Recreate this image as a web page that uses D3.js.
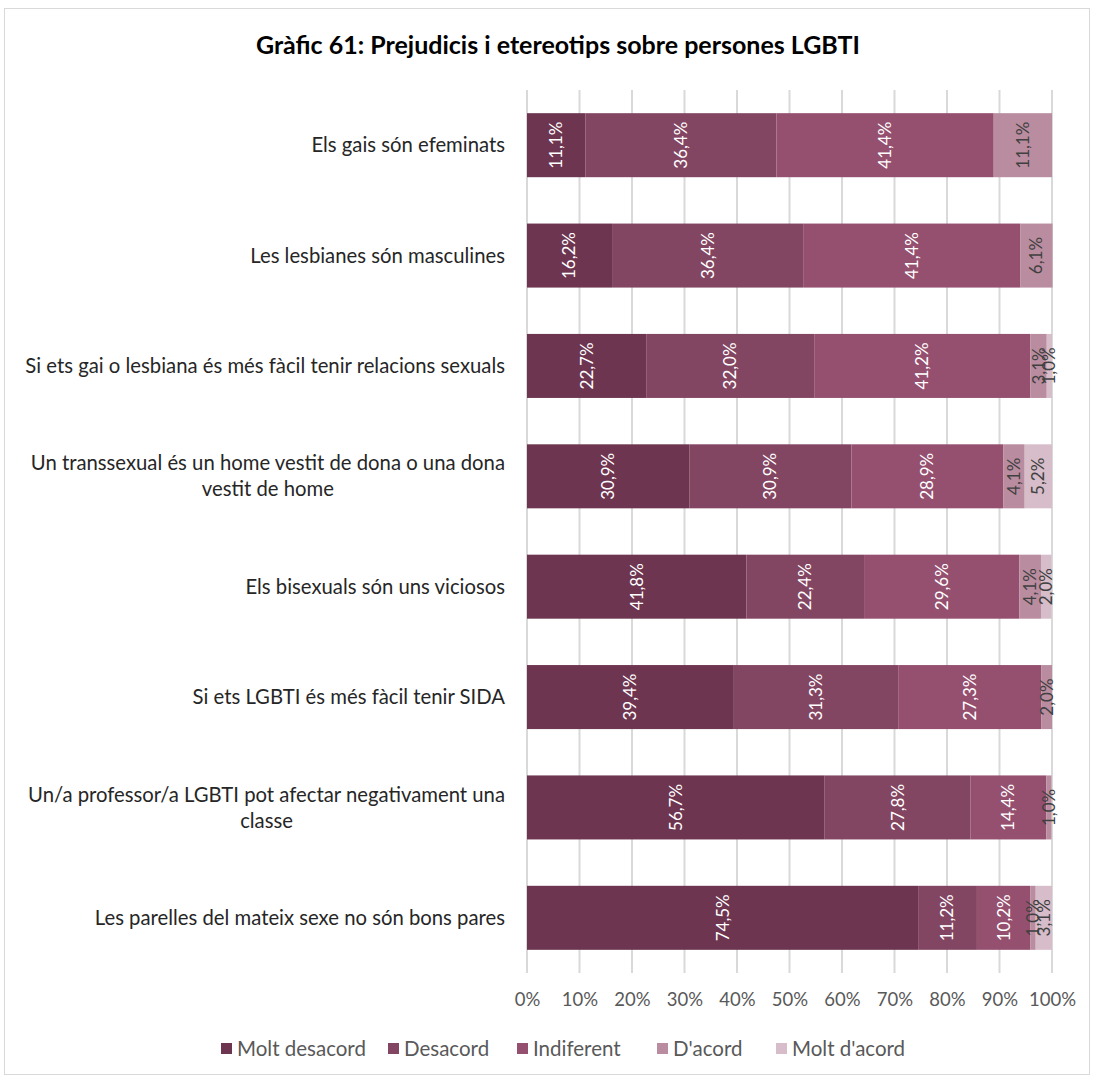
<!DOCTYPE html>
<html>
<head>
<meta charset="utf-8">
<script src="https://cdn.jsdelivr.net/npm/d3@7"></script>
<style>
  body { margin: 0; background: #fff; }
  svg text { font-family: Lato, "Open Sans", sans-serif; }
</style>
</head>
<body>
<div id="chart"></div>
<script>
const categories = [
    ["Els gais són efeminats"],
    ["Les lesbianes són masculines"],
    ["Si ets gai o lesbiana és més fàcil tenir relacions sexuals"],
    ["Un transsexual és un home vestit de dona o una dona", "vestit de home"],
    ["Els bisexuals són uns viciosos"],
    ["Si ets LGBTI és més fàcil tenir SIDA"],
    ["Un/a professor/a LGBTI pot afectar negativament una", "classe"],
    ["Les parelles del mateix sexe no són bons pares"]
]
const seriesNames = ["Molt desacord", "Desacord", "Indiferent", "D'acord", "Molt d'acord"]
const moltDesacord = [11.1, 16.2, 22.7, 30.9, 41.8, 39.4, 56.7, 74.5]
const desacord     = [36.4, 36.4, 32.0, 30.9, 22.4, 31.3, 27.8, 11.2]
const indiferent   = [41.4, 41.4, 41.2, 28.9, 29.6, 27.3, 14.4, 10.2]
const dAcord       = [11.1, 6.1, 3.1, 4.1, 4.1, 2.0, 1.0, 1.0]
const moltDAcord   = [0, 0, 1.0, 5.2, 2.0, 0, 0, 3.1]
const xTicks = [0, 10, 20, 30, 40, 50, 60, 70, 80, 90, 100]

const colors = ["#6d3550", "#834662", "#955070", "#b98c9f", "#d6bdc9"]
const labelColors = ["#ffffff", "#ffffff", "#ffffff", "#404040", "#404040"]

let width = 1095, height = 1079
let margin = {top: 90, right: 43, bottom: 106, left: 527}

let svg = d3.select("#chart").append("svg")
    .attr("width", width)
    .attr("height", height)

// outer frame
svg.append("rect")
    .attr("x", 4.5).attr("y", 8.5)
    .attr("width", 1085).attr("height", 1066)
    .attr("fill", "#fff")
    .attr("stroke", "#d9d9d9")

svg.append("text")
    .attr("x", 558)
    .attr("y", 54)
    .attr("text-anchor", "middle")
    .style("font-size", "25px")
    .style("font-weight", "bold")
    .style("fill", "#000")
    .text("Gràfic 61: Prejudicis i etereotips sobre persones LGBTI")

let xScale = d3.scaleLinear().domain([0, 100]).range([margin.left, width - margin.right])
let yScale = d3.scaleBand()
    .domain(d3.range(categories.length))
    .range([margin.top, height - margin.bottom])
    .paddingInner(0.42)
    .paddingOuter(0.21)

// gridlines
svg.append("g").selectAll("line")
    .data(xTicks)
    .enter().append("line")
    .attr("x1", d => xScale(d)).attr("x2", d => xScale(d))
    .attr("y1", margin.top).attr("y2", height - margin.bottom)
    .attr("stroke", "#d9d9d9")
    .attr("stroke-width", 2)

let rows = categories.map((c, i) => ({
    i: i,
    values: [moltDesacord[i], desacord[i], indiferent[i], dAcord[i], moltDAcord[i]]
}))

let segs = []
rows.forEach(r => {
    let acc = 0
    r.values.forEach((v, k) => {
        if (v > 0) segs.push({row: r.i, k: k, v: v, x0: acc, x1: acc + v})
        acc += v
    })
})

svg.append("g").selectAll("rect")
    .data(segs)
    .enter().append("rect")
    .attr("x", d => xScale(d.x0))
    .attr("y", d => yScale(d.row))
    .attr("width", d => xScale(d.x1) - xScale(d.x0))
    .attr("height", yScale.bandwidth())
    .attr("fill", d => colors[d.k])

svg.append("g").selectAll("text")
    .data(segs)
    .enter().append("text")
    .attr("transform", d => "translate(" + (xScale((d.x0 + d.x1) / 2)) + "," + (yScale(d.row) + yScale.bandwidth() / 2) + ") rotate(-90)")
    .attr("text-anchor", "middle")
    .attr("dy", "0.35em")
    .style("font-size", "17px")
    .style("fill", d => labelColors[d.k])
    .text(d => d.v.toFixed(1).replace(".", ",") + "%")

// x axis
let xAxis = d3.axisBottom(xScale)
    .tickValues(xTicks)
    .tickSize(0)
    .tickPadding(20)
    .tickFormat(d => d + "%")

let xg = svg.append("g")
    .attr("transform", "translate(0," + (height - margin.bottom) + ")")
    .call(xAxis)
xg.select(".domain").remove()
xg.selectAll("text")
    .style("font-size", "18.5px")
    .style("fill", "#595959")
    .style("font-family", "Lato, sans-serif")

// category labels
let catG = svg.append("g")
categories.forEach((lines, i) => {
    let cy = yScale(i) + yScale.bandwidth() / 2
    let t = catG.append("text")
        .style("font-size", "20.3px")
        .style("fill", "#262626")
        .attr("text-anchor", "middle")
    let lh = 26
    lines.forEach((ln, j) => {
        t.append("tspan")
            .attr("x", 0)
            .attr("y", cy + (j - (lines.length - 1) / 2) * lh)
            .attr("dy", "0.35em")
            .text(ln)
    })
    let maxW = d3.max(t.selectAll("tspan").nodes(), n => n.getComputedTextLength())
    let cx = 505 - maxW / 2
    t.selectAll("tspan").attr("x", cx)
})

// legend
let legendX = [221, 388, 517, 657, 776]
let lg = svg.append("g")
seriesNames.forEach((name, k) => {
    lg.append("rect")
        .attr("x", legendX[k]).attr("y", 1043)
        .attr("width", 11).attr("height", 11)
        .attr("fill", colors[k])
    lg.append("text")
        .attr("x", legendX[k] + 16).attr("y", 1049)
        .attr("dy", "0.35em")
        .style("font-size", "20.5px")
        .style("fill", "#595959")
        .text(name)
})
</script>
</body>
</html>
